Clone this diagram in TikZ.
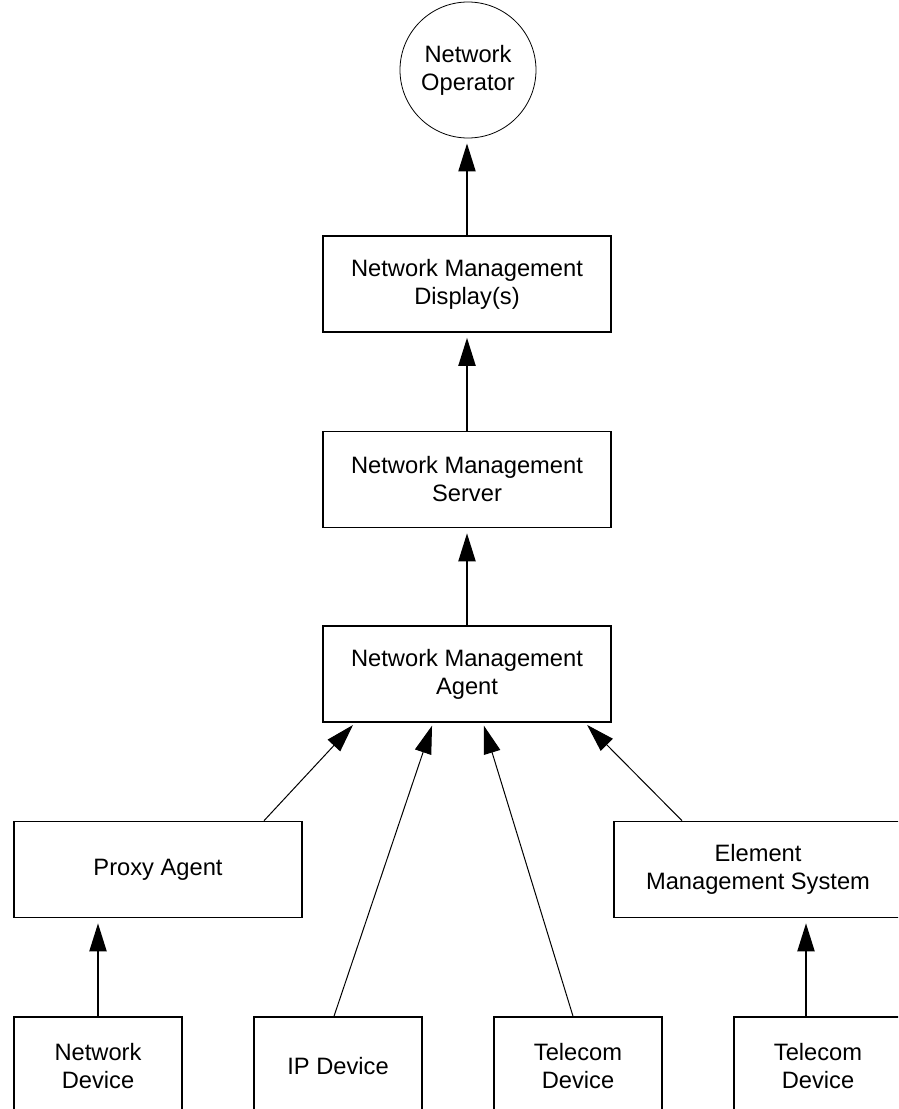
\documentclass[tikz,border=0pt]{standalone}
\usepackage{fontspec}
\setmainfont{Liberation Sans}
\usetikzlibrary{arrows.meta}
\begin{document}
\begin{tikzpicture}[x=1pt,y=1pt,
  every node/.style={font=\fontsize{23.7}{28}\selectfont, align=center, inner sep=0pt},
  wide/.style={draw, line width=1.6pt, minimum width=288, minimum height=96},
  device/.style={draw, line width=1.6pt, minimum width=168, minimum height=98},
  person/.style={draw, circle, line width=0.8pt, minimum size=136},
  uplink/.style={line width=2pt, -{Triangle[length=28pt,width=17pt]}, shorten >=5pt},
  feed/.style={line width=1pt, -{Triangle[length=28pt,width=17pt]}, shorten >=3pt}]
\useasboundingbox (0,0) rectangle (898,-1109);
\clip (0,0) rectangle (898,-1109);

% management chain
\node[person] (op) at (468,-70) {Network\\Operator};
\node[wide] (disp) at (467,-284) {Network Management\\Display(s)};
\node[wide] (srv) at (467,-479.5) {Network Management\\Server};
\node[wide] (agent) at (467,-674) {Network Management\\Agent};

% intermediate systems
\node[wide] (proxy) at (158,-869.5) {Proxy Agent};
\node[wide] (ems) at (758,-869.5) {Element\\Management System};

% managed devices
\node[device] (nd) at (98,-1066) {Network\\Device};
\node[device] (ip) at (338,-1066) {IP Device};
\node[device] (tel1) at (578,-1066) {Telecom\\Device};
\node[device] (tel2) at (818,-1066) {Telecom\\Device};

% vertical links
\draw[uplink] (disp.north) -- (disp.north |- op.south);
\draw[uplink] (srv.north) -- (disp.south);
\draw[uplink] (agent.north) -- (srv.south);
\draw[uplink] (nd.north) -- (nd.north |- proxy.south);
\draw[uplink] ([xshift=-12]tel2.north) -- ([xshift=-12]tel2.north |- ems.south);

% links into the agent
\draw[feed] ([xshift=106]proxy.north) -- ([xshift=-112]agent.south);
\draw[feed] ([xshift=-4]ip.north) -- ([xshift=-34]agent.south);
\draw[feed] ([xshift=-5]tel1.north) -- ([xshift=16]agent.south);
\draw[feed] ([xshift=-76]ems.north) -- ([xshift=118]agent.south);
\end{tikzpicture}
\end{document}
